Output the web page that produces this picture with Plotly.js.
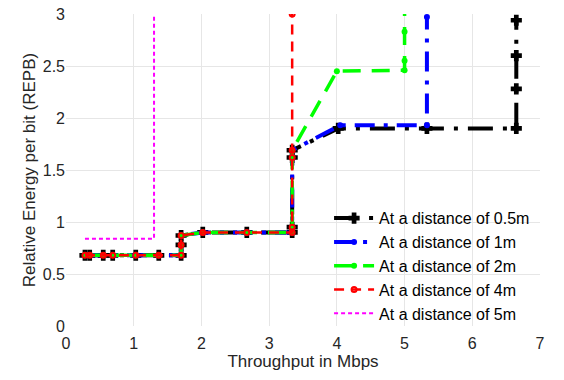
<!DOCTYPE html>
<html>
<head>
<meta charset="utf-8">
<script src="https://cdn.plot.ly/plotly-3.0.1.min.js"></script>
<style>html,body{margin:0;padding:0;background:#fff;}#chart{width:564px;height:380px;}</style>
</head>
<body>
<div id="chart"></div>
<script>
// Throughput (Mbps) and REPB values
const x05 = [0.28,0.35,0.55,0.69,1.03,1.37,1.70,1.70,1.70,2.02,2.67,3.34,3.34,3.34,3.34,4.02,5.33,6.65,6.65,6.65,6.65];
const y05 = [0.68,0.68,0.68,0.68,0.68,0.68,0.68,0.78,0.87,0.90,0.90,0.90,0.95,1.62,1.69,1.90,1.90,1.90,2.28,2.60,2.94];

const x1 = [0.28,0.35,0.55,0.69,1.03,1.37,1.70,1.70,1.70,2.02,2.67,3.34,3.34,3.34,3.34,4.05,5.33,5.33];
const y1 = [0.68,0.68,0.68,0.68,0.68,0.68,0.68,0.78,0.87,0.90,0.90,0.90,0.95,1.62,1.69,1.93,1.93,2.97];

const x2 = [0.28,0.35,0.55,0.69,1.03,1.37,1.70,1.70,1.70,2.02,2.67,3.34,3.34,3.34,3.34,4.00,5.00,5.00,5.00,5.00];
const y2 = [0.68,0.68,0.68,0.68,0.68,0.68,0.68,0.78,0.87,0.90,0.90,0.90,0.95,1.62,1.69,2.45,2.46,2.55,2.83,3.05];

const x4 = [0.28,0.35,0.55,0.69,1.03,1.37,1.70,1.70,1.70,2.02,2.67,3.34,3.34,3.34,3.34,3.34];
const y4 = [0.68,0.68,0.68,0.68,0.68,0.68,0.68,0.78,0.87,0.90,0.90,0.90,0.95,1.62,1.69,3.00];

const x5 = [0.28,1.30,1.30];
const y5 = [0.84,0.84,3.00];

const seriesNames = ['At a distance of 0.5m','At a distance of 1m','At a distance of 2m','At a distance of 4m','At a distance of 5m'];
const xTicks = [0,1,2,3,4,5,6,7];
const yTicks = [0,0.5,1,1.5,2,2.5,3];

const traces = [
  {x:x05, y:y05, name:seriesNames[0], mode:'lines+markers',
   line:{color:'#000000', width:4, dash:'25px,10px,4px,10px'},
   marker:{symbol:'cross', size:8, color:'#000000', line:{color:'#000000', width:1.5}}},
  {x:x1, y:y1, name:seriesNames[1], mode:'lines+markers',
   line:{color:'#0000ff', width:4, dash:'20px,9px,4px,9px'},
   marker:{symbol:'circle', size:6, color:'#0000ff'}},
  {x:x2, y:y2, name:seriesNames[2], mode:'lines+markers',
   line:{color:'#00ff00', width:3.5, dash:'18px,11px'},
   marker:{symbol:'circle', size:6, color:'#00ff00'}},
  {x:x4, y:y4, name:seriesNames[3], mode:'lines+markers',
   line:{color:'#ff0000', width:2.5, dash:'10px,7px'},
   marker:{symbol:'circle-open', size:5, color:'#ff0000', line:{width:2}}},
  {x:x5, y:y5, name:seriesNames[4], mode:'lines',
   line:{color:'#ff00ff', width:2, dash:'4px,3px'}}
];

const layout = {
  width:564, height:380,
  margin:{l:66, r:24, t:14, b:54},
  paper_bgcolor:'#ffffff', plot_bgcolor:'#ffffff',
  font:{family:'Liberation Sans, Arial, sans-serif', size:16, color:'#262626'},
  showlegend:true,
  legend:{x:0.555, xanchor:'left', y:0.4, yanchor:'top', bgcolor:'rgba(255,255,255,0)',
          font:{size:16, color:'#000'}, tracegroupgap:0, itemwidth:40},
  xaxis:{range:[0,7], tickvals:xTicks, ticktext:xTicks.map(String), showgrid:true, gridcolor:'#e6e6e6',
         zeroline:false, showline:false, ticks:'', ticklabelstandoff:6,
         title:{text:'Throughput in Mbps', font:{size:17}, standoff:4}},
  yaxis:{range:[0,3], tickvals:yTicks, ticktext:yTicks.map(String), showgrid:true, gridcolor:'#e6e6e6',
         zeroline:false, showline:false, ticks:'',
         title:{text:'Relative Energy per bit (REPB)', font:{size:17}, standoff:2}}
};

Plotly.newPlot('chart', traces, layout, {staticPlot:true, displayModeBar:false});
</script>
</body>
</html>
